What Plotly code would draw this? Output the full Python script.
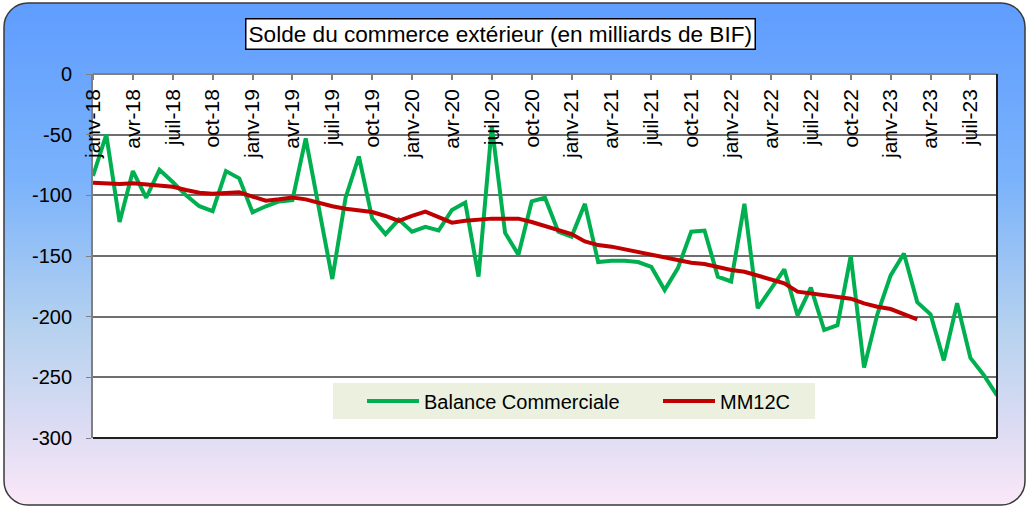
import base64
import plotly.graph_objects as go

# ---- data ----
month_names = ["janv", "févr", "mars", "avr", "mai", "juin", "juil", "août", "sept", "oct", "nov", "déc"]
years = ["18", "19", "20", "21", "22", "23"]
categories = [f"{m}-{y}" for y in years for m in month_names][:69]  # janv-18 .. sept-23

balance = [-84, -50, -122, -80, -102, -79, -89, -100, -109, -113,
           -80, -86, -114, -109, -105, -104, -53, -112, -169, -102,
           -68, -119, -132, -120, -130, -126, -129, -112, -106, -167,
           -43, -131, -149, -105, -102, -130, -134, -107, -155, -154,
           -154, -155, -159, -178, -160, -130, -129, -167, -171, -107,
           -193, -177, -161, -199, -176, -211, -207, -150, -242, -198,
           -166, -148, -188, -198, -236, -189, -234, -248, -265]

mm12c = [-89.6, -90.5, -90.7, -90, -91, -91.8, -92.9, -95.6, -97.8, -98.6,
         -98.3, -97.5, -101, -104.4, -103.3, -101.7, -103.3, -106.5, -109, -111,
         -112, -113.7, -117, -121, -117, -113.5, -118, -122.5, -121, -119.8,
         -119.2, -119.2, -119.2, -122, -125.5, -128.6, -131.9, -138, -141, -142.3,
         -144.5, -147.3, -149.7, -151.6, -153.8, -155.5, -156.6, -159.4, -161.5, -163,
         -166, -169.8, -172.5, -179.4, -180.8, -182.4, -184, -185.2, -189, -191.8,
         -193.7, -197.8, -202.2]

tick_labels = categories[::3]
y_ticks = [0, -50, -100, -150, -200, -250, -300]
y_tick_text = ["0", "-50", "-100", "-150", "-200", "-250", "-300"]

title_text = "Solde du commerce extérieur (en milliards de BIF)"

# ---- layout geometry ----
W, H = 1030, 508
ML, MR, MT, MB = 93, 33, 74, 70
PW, PH = W - ML - MR, H - MT - MB

FONT = "Arial, Liberation Sans, sans-serif"

svg = f"""<svg xmlns='http://www.w3.org/2000/svg' width='{W}' height='{H}' viewBox='0 0 {W} {H}' preserveAspectRatio='none'>
<defs><linearGradient id='g' x1='0' y1='0' x2='0' y2='1'>
<stop offset='0' stop-color='#5f9dff'/>
<stop offset='0.35' stop-color='#7ab2fb'/>
<stop offset='0.65' stop-color='#b6d2ef'/>
<stop offset='0.85' stop-color='#dddcf3'/>
<stop offset='1' stop-color='#fbe8f8'/>
</linearGradient></defs>
<rect x='4' y='3' width='1021' height='502' rx='24' ry='24' fill='url(#g)' stroke='#3a3a3a' stroke-width='1.5'/>
</svg>"""
svg_uri = "data:image/svg+xml;base64," + base64.b64encode(svg.encode("utf-8")).decode("ascii")


def px_x(x):
    return (x - ML) / PW


def px_y(y):
    return 1 - (y - MT) / PH


fig = go.Figure()
fig.add_trace(go.Scatter(
    x=categories, y=balance, mode="lines", name="Balance Commerciale",
    line=dict(color="#00B050", width=4), legend="legend",
))
fig.add_trace(go.Scatter(
    x=categories[:len(mm12c)], y=mm12c, mode="lines", name="MM12C",
    line=dict(color="#C00000", width=4), legend="legend2",
))

legend_common = dict(
    orientation="h", yanchor="middle", xanchor="left",
    bgcolor="rgba(0,0,0,0)", borderwidth=0,
    font=dict(size=20, family=FONT, color="black"),
)

fig.update_layout(
    width=W, height=H,
    margin=dict(l=ML, r=MR, t=MT, b=MB, pad=0, autoexpand=False),
    paper_bgcolor="white",
    plot_bgcolor="rgba(0,0,0,0)",
    font=dict(family=FONT, color="black"),
    showlegend=True,
    legend=dict(x=px_x(362), y=px_y(401), itemwidth=52, **legend_common),
    legend2=dict(x=px_x(658), y=px_y(401), itemwidth=52, **legend_common),
    images=[dict(
        source=svg_uri, xref="paper", yref="paper",
        x=-ML / PW, y=1 + MT / PH, sizex=W / PW, sizey=H / PH,
        xanchor="left", yanchor="top", sizing="stretch", layer="below",
    )],
    shapes=[
        dict(type="rect", xref="paper", yref="paper", x0=0, x1=1, y0=0, y1=1,
             fillcolor="white", line=dict(width=0), layer="below"),
        dict(type="rect", xref="paper", yref="paper",
             x0=px_x(333), x1=px_x(815), y0=px_y(419), y1=px_y(383),
             fillcolor="#EBF1DE", line=dict(width=0), layer="below"),
        dict(type="line", xref="paper", yref="paper", x0=0, x1=1, y0=0, y1=0,
             line=dict(color="#202020", width=2), layer="above"),
        dict(type="line", xref="paper", yref="paper", x0=1, x1=1, y0=0, y1=1,
             line=dict(color="#202020", width=2), layer="above"),
    ],
    annotations=[dict(
        text=title_text, xref="paper", yref="paper",
        x=px_x(500), y=px_y(34), xanchor="center", yanchor="middle",
        showarrow=False, font=dict(size=22.6, family=FONT, color="black"),
        bgcolor="white", bordercolor="black", borderwidth=1.5, borderpad=2,
    )],
)

fig.update_xaxes(
    type="category", range=[0, len(categories) - 1],
    anchor="free", position=1, side="bottom",
    ticks="outside", ticklen=5, tickcolor="#808080", tickwidth=1.5,
    tickangle=-90, ticklabelstandoff=1,
    tickmode="array", tickvals=tick_labels, ticktext=tick_labels,
    tickfont=dict(size=21, family=FONT, color="black"),
    showline=True, linecolor="#808080", linewidth=1.5,
    showgrid=False, zeroline=False, automargin=False,
)
fig.update_yaxes(
    range=[-300, 0], tickmode="array", tickvals=y_ticks, ticktext=y_tick_text,
    ticks="outside", ticklen=5, tickcolor="#808080",
    tickfont=dict(size=20, family=FONT, color="black"),
    ticklabelstandoff=10,
    showline=True, linecolor="#808080", linewidth=2,
    showgrid=True, gridcolor="#6f6f6f", gridwidth=1.5,
    zeroline=False, automargin=False,
)

fig.write_html("out.html", config={"displayModeBar": False},
               post_script="document.body.style.margin='0';")
